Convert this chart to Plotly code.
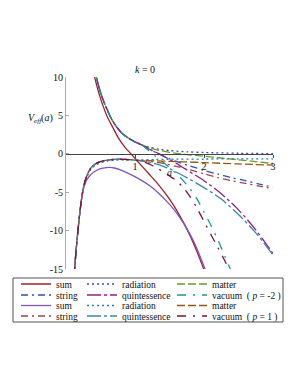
import plotly.graph_objects as go

# ---------------- data ----------------
# shared upper branch (a -> 0 gives +inf)
up_a = [0.40, 0.435, 0.48, 0.53, 0.58, 0.65, 0.725, 0.82, 0.92, 1.0, 1.1]
up_v = [11.8, 10.2, 8.6, 7.2, 6.1, 4.7, 3.6, 2.6, 1.95, 1.55, 1.15]

# shared lower branch (a -> 0 gives -inf)
lo_a = [0.11, 0.125, 0.15, 0.18, 0.20, 0.23, 0.26, 0.30, 0.36, 0.42, 0.49, 0.60, 0.72, 0.85, 0.97]
lo_v = [-17.0, -15.0, -12.2, -9.4, -7.7, -5.6, -4.1, -2.9, -1.85, -1.35, -1.05, -0.82, -0.72, -0.72, -0.8]

sum1_a = [0.38, 0.41, 0.47, 0.53, 0.60, 0.68, 0.77, 0.85, 0.94, 1.0, 1.1, 1.2, 1.3, 1.4, 1.5, 1.6, 1.7, 1.8, 1.9, 2.0, 2.05]
sum1_v = [11.8, 10.2, 8.1, 6.4, 4.8, 3.4, 1.9, 0.9, 0.0, -0.6, -1.6, -2.6, -3.6, -4.7, -5.9, -7.3, -8.9, -10.7, -12.8, -15.1, -16.3]

rad1_a = [1.2, 1.35, 1.5, 1.75, 2.0, 2.5, 3.0]
rad1_v = [0.88, 0.6, 0.42, 0.26, 0.17, 0.07, 0.02]

mat1_a = [1.2, 1.35, 1.5, 1.75, 2.0, 2.25, 2.5, 2.75, 3.0]
mat1_v = [0.8, 0.45, 0.18, -0.1, -0.32, -0.55, -0.78, -1.02, -1.26]

str1_a = [1.2, 1.3, 1.46, 1.6, 1.8, 2.0, 2.2, 2.4, 2.6, 2.8, 3.0]
str1_v = [0.6, 0.2, -0.5, -1.0, -1.6, -2.15, -2.65, -3.1, -3.5, -3.95, -4.35]

qui1_a = [1.2, 1.3, 1.4, 1.5, 1.6, 1.75, 2.0, 2.25, 2.5, 2.75, 3.0]
qui1_v = [0.65, 0.2, -0.25, -0.75, -1.25, -2.1, -3.5, -5.2, -7.3, -9.9, -13.0]

vac1_a = [1.2, 1.3, 1.4, 1.5, 1.6, 1.7, 1.8, 1.9, 2.0, 2.1, 2.2, 2.3, 2.38, 2.42]
vac1_v = [0.4, -0.35, -1.05, -1.8, -2.6, -3.5, -4.6, -5.9, -7.6, -9.3, -11.2, -13.3, -15.0, -16.0]

sum2_a = [0.26, 0.30, 0.35, 0.40, 0.49, 0.56, 0.63, 0.70, 0.78, 0.88, 0.97, 1.1, 1.22, 1.35, 1.46, 1.55, 1.65, 1.75, 1.85, 1.95, 2.02, 2.06]
sum2_v = [-4.3, -3.4, -2.8, -2.4, -1.95, -1.82, -1.78, -1.85, -2.05, -2.45, -2.85, -3.5, -4.2, -5.2, -6.2, -7.1, -8.3, -9.7, -11.4, -13.5, -15.1, -16.0]

rad2_a = [0.26, 0.30, 0.36, 0.42, 0.49, 0.60, 0.72, 0.85, 0.97, 1.1, 1.3, 1.5, 2.0, 2.5, 3.0]
rad2_v = [-4.3, -3.1, -2.05, -1.55, -1.22, -0.95, -0.84, -0.8, -0.8, -0.78, -0.74, -0.71, -0.68, -0.66, -0.65]

mat2_a = [1.1, 1.3, 1.5, 1.7, 2.0, 2.5, 3.0]
mat2_v = [-0.87, -0.92, -0.98, -1.04, -1.15, -1.32, -1.48]

str2_a = [1.1, 1.2, 1.3, 1.46, 1.6, 1.8, 2.0, 2.2, 2.4, 2.6, 2.8, 3.0]
str2_v = [-0.9, -1.0, -1.1, -1.35, -1.65, -2.1, -2.6, -3.1, -3.5, -3.85, -4.2, -4.56]

qui2_a = [1.1, 1.2, 1.3, 1.4, 1.5, 1.6, 1.75, 2.0, 2.25, 2.5, 2.75, 3.0]
qui2_v = [-0.95, -1.1, -1.3, -1.6, -1.95, -2.4, -3.1, -4.4, -5.9, -7.9, -10.3, -13.2]

vac2_a = [1.1, 1.2, 1.3, 1.4, 1.5, 1.6, 1.7, 1.8, 1.9, 2.0, 2.1, 2.2, 2.3, 2.36, 2.4]
vac2_v = [-1.0, -1.3, -1.75, -2.3, -2.9, -3.5, -4.4, -5.6, -7.1, -8.8, -10.5, -12.2, -13.9, -15.0, -15.8]

y_ticks = [-15, -10, -5, 0, 5, 10]
y_ticktext = ["-15", "-10", "-5", "0", "5", "10"]
x_ticks = [1, 2, 3]
x_ticktext = ["1", "2", "3"]

# ---------------- figure ----------------
W, H = 298, 385
OFF = 8                      # page body margin in the browser
PLOT_X0, PLOT_X1 = 66, 273   # wanted plot area on screen
PLOT_Y0, PLOT_Y1 = 77, 269
L = PLOT_X0 - OFF
T = PLOT_Y0 - OFF
PW = PLOT_X1 - PLOT_X0
PH = PLOT_Y1 - PLOT_Y0
R = W - L - PW
B = H - T - PH


def px(x):
    return (x - PLOT_X0) / PW


def py(y):
    return (PLOT_Y1 - y) / PH


SERIF = "Liberation Serif"

series = [
    # name, a, v, color, dash, legend column, row
    ("sum", sum1_a, sum1_v, "#A3202A", "solid", 0, 0),
    ("radiation", up_a + rad1_a, up_v + rad1_v, "#2F4FBF", "2px,3px", 1, 0),
    ("matter", up_a + mat1_a, up_v + mat1_v, "#6E9A2A", "8px,3px", 2, 0),
    ("string", up_a + str1_a, up_v + str1_v, "#2856B0", "7px,4px,2px,4px", 0, 1),
    ("quintessence", up_a + qui1_a, up_v + qui1_v, "#9A1C8C", "14px,3px,3px,3px", 1, 1),
    ("vacuum  ( <i>p</i> = -2 )", up_a + vac1_a, up_v + vac1_v, "#1A9A8A", "9px,7px,2px,7px", 2, 1),
    ("sum", lo_a[:6] + sum2_a, lo_v[:6] + sum2_v, "#7B55C4", "solid", 0, 2),
    ("radiation", lo_a[:6] + rad2_a, lo_v[:6] + rad2_v, "#2A80A8", "2px,3px", 1, 2),
    ("matter", lo_a + mat2_a, lo_v + mat2_v, "#8E5A0A", "8px,3px", 2, 2),
    ("string", lo_a + str2_a, lo_v + str2_v, "#A8404E", "7px,4px,2px,4px", 0, 3),
    ("quintessence", lo_a + qui2_a, lo_v + qui2_v, "#3A86A8", "14px,3px,3px,3px", 1, 3),
    ("vacuum  ( <i>p</i> = 1 )", lo_a + vac2_a, lo_v + vac2_v, "#80103C", "9px,7px,2px,7px", 2, 3),
]

col_left = [16, 82, 172]
row_mid = [284, 295, 305.5, 316]

fig = go.Figure()
legends = {}
for i, (name, a, v, color, dash, col, row) in enumerate(series):
    lid = "legend" if i == 0 else "legend%d" % (i + 1)
    fig.add_trace(go.Scatter(
        x=a, y=v, mode="lines", name=name, legend=lid,
        line=dict(color=color, width=1.3, dash=dash, shape="spline", smoothing=0.8),
        hoverinfo="skip",
    ))
    legends[lid] = dict(
        x=px(col_left[col]), y=py(row_mid[row]), xanchor="left", yanchor="middle",
        bgcolor="rgba(0,0,0,0)", borderwidth=0, itemwidth=30,
        font=dict(family=SERIF, size=9.5, color="#111"),
    )

fig.update_layout(**legends)

fig.update_layout(
    width=W, height=H,
    margin=dict(l=L, r=R, t=T, b=B, autoexpand=False),
    paper_bgcolor="white", plot_bgcolor="white",
    showlegend=True,
    font=dict(family=SERIF, size=10, color="#111"),
    xaxis=dict(
        range=[0, 3], anchor="free", position=0.6,
        showgrid=False, zeroline=False, showline=True, linecolor="#444", linewidth=1,
        tickvals=x_ticks, ticktext=x_ticktext, ticks="outside", ticklen=3, tickcolor="#444",
        tickfont=dict(family=SERIF, size=10, color="#111"),
    ),
    yaxis=dict(
        range=[-15, 10], showgrid=False, zeroline=False,
        showline=True, linecolor="#aaa", linewidth=1,
        tickvals=y_ticks, ticktext=y_ticktext, ticks="inside", ticklen=3, tickcolor="#aaa",
        tickfont=dict(family=SERIF, size=10, color="#111"),
    ),
    annotations=[
        dict(text="<i>k</i> = 0", x=px(145), y=py(62), xref="paper", yref="paper",
             showarrow=False, font=dict(family=SERIF, size=10)),
        dict(text="<i>V</i><sub><i>eff</i></sub>(<i>a</i>)", x=px(26), y=py(110), xref="paper", yref="paper",
             showarrow=False, font=dict(family=SERIF, size=10)),
        dict(text="<i>a</i>", x=px(169), y=py(172), xref="paper", yref="paper",
             showarrow=False, font=dict(family=SERIF, size=10)),
    ],
    shapes=[
        dict(type="rect", xref="paper", yref="paper",
             x0=px(13), x1=px(283), y0=py(278), y1=py(322),
             line=dict(color="#555", width=1), fillcolor="rgba(0,0,0,0)", layer="below"),
    ],
)

fig.write_html("out.html")
